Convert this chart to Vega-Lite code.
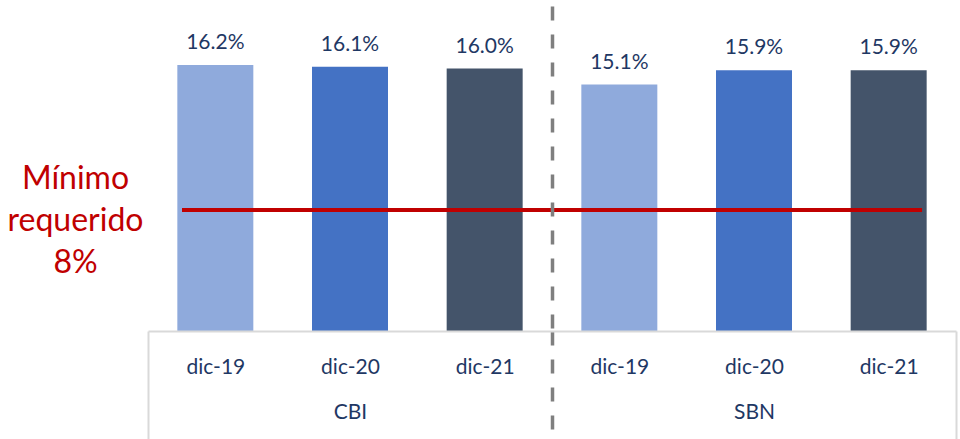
{
  "$schema": "https://vega.github.io/schema/vega-lite/v6.json",
  "width": 808,
  "height": 325,
  "autosize": {"type": "none"},
  "padding": {"left": 148, "top": 6, "right": 4, "bottom": 108},
  "background": "white",
  "config": {"view": {"stroke": null}, "font": "Lato"},
  "datasets": {
    "bars": [
      {"group": "CBI", "period": "dic-19", "cat": "CBI|dic-19", "ratio": 0.162},
      {"group": "CBI", "period": "dic-20", "cat": "CBI|dic-20", "ratio": 0.161},
      {"group": "CBI", "period": "dic-21", "cat": "CBI|dic-21", "ratio": 0.160},
      {"group": "SBN", "period": "dic-19", "cat": "SBN|dic-19", "ratio": 0.151},
      {"group": "SBN", "period": "dic-20", "cat": "SBN|dic-20", "ratio": 0.159},
      {"group": "SBN", "period": "dic-21", "cat": "SBN|dic-21", "ratio": 0.159}
    ],
    "minimum": [
      {"from": "CBI|dic-19", "to": "SBN|dic-21", "required": 0.08}
    ]
  },
  "layer": [
    {
      "data": {"name": "bars"},
      "mark": {"type": "bar", "clip": true, "width": {"band": 0.5643}},
      "encoding": {
        "x": {
          "field": "cat",
          "type": "nominal",
          "sort": null,
          "scale": {
            "domain": ["CBI|dic-19", "CBI|dic-20", "CBI|dic-21", "SBN|dic-19", "SBN|dic-20", "SBN|dic-21"],
            "paddingInner": 0,
            "paddingOuter": 0
          },
          "axis": {
            "orient": "bottom",
            "title": null,
            "zindex": 1,
            "domainColor": "#D9D9D9",
            "domainWidth": 2,
            "tickBand": "extent",
            "tickSize": 108,
            "tickColor": {"condition": {"test": "datum.value === 'CBI|dic-21'", "value": "#7F7F7F"}, "value": "#D9D9D9"},
            "tickWidth": {"condition": {"test": "datum.value === 'CBI|dic-21'", "value": 3.5}, "value": 2},
            "tickDash": {"condition": {"test": "datum.value === 'CBI|dic-21'", "value": [14, 14]}, "value": [1, 0]},
            "tickOpacity": {"condition": {"test": "datum.index < 0 || datum.value === 'CBI|dic-21' || datum.value === 'SBN|dic-21'", "value": 1}, "value": 0},
            "grid": true,
            "gridColor": "#7F7F7F",
            "gridWidth": 3.5,
            "gridDash": [14, 14],
            "gridOpacity": {"condition": {"test": "datum.value === 'CBI|dic-21'", "value": 1}, "value": 0},
            "labelExpr": "datum.index < 0 || !isString(datum.value) ? '' : (indexof(datum.value, 'dic-20') >= 0 ? [split(datum.value, '|')[1], split(datum.value, '|')[0]] : split(datum.value, '|')[1])",
            "labelFont": "Lato",
            "labelFontSize": 21,
            "labelColor": "#1F3864",
            "labelPadding": -82.6,
            "labelLineHeight": 45,
            "labelBaseline": "top",
            "labelAngle": 0,
            "labelOverlap": false,
            "labelBound": false,
            "labelFlush": false
          }
        },
        "y": {
          "field": "ratio",
          "type": "quantitative",
          "scale": {"domain": [0.0116, 0.1954], "zero": false, "nice": false},
          "axis": {
            "values": [0.08],
            "title": null,
            "domain": false,
            "ticks": false,
            "grid": false,
            "labelExpr": "['Mínimo', 'requerido', format(datum.value, '.0%')]",
            "labelFont": "Lato",
            "labelFontSize": 32,
            "labelColor": "#C00000",
            "labelAlign": "center",
            "labelBaseline": "middle",
            "labelPadding": 73,
            "labelLineHeight": 42,
            "labelOffset": -32,
            "labelOverlap": false,
            "labelBound": false,
            "labelFlush": false
          }
        },
        "color": {
          "field": "period",
          "type": "nominal",
          "scale": {"domain": ["dic-19", "dic-20", "dic-21"], "range": ["#8FAADC", "#4472C4", "#44546A"]},
          "legend": null
        }
      }
    },
    {
      "data": {"name": "bars"},
      "mark": {"type": "text", "dy": -16, "baseline": "alphabetic", "fontSize": 21, "font": "Lato", "color": "#1F3864"},
      "encoding": {
        "x": {"field": "cat", "type": "nominal", "sort": null},
        "y": {"field": "ratio", "type": "quantitative"},
        "text": {"field": "ratio", "type": "quantitative", "format": ".1%"}
      }
    },
    {
      "data": {"name": "minimum"},
      "mark": {"type": "rule", "color": "#C00000", "strokeWidth": 4},
      "encoding": {
        "x": {"field": "from", "type": "nominal", "bandPosition": 0.2525},
        "x2": {"field": "to", "bandPosition": 0.748},
        "y": {"field": "required", "type": "quantitative"}
      }
    }
  ]
}
